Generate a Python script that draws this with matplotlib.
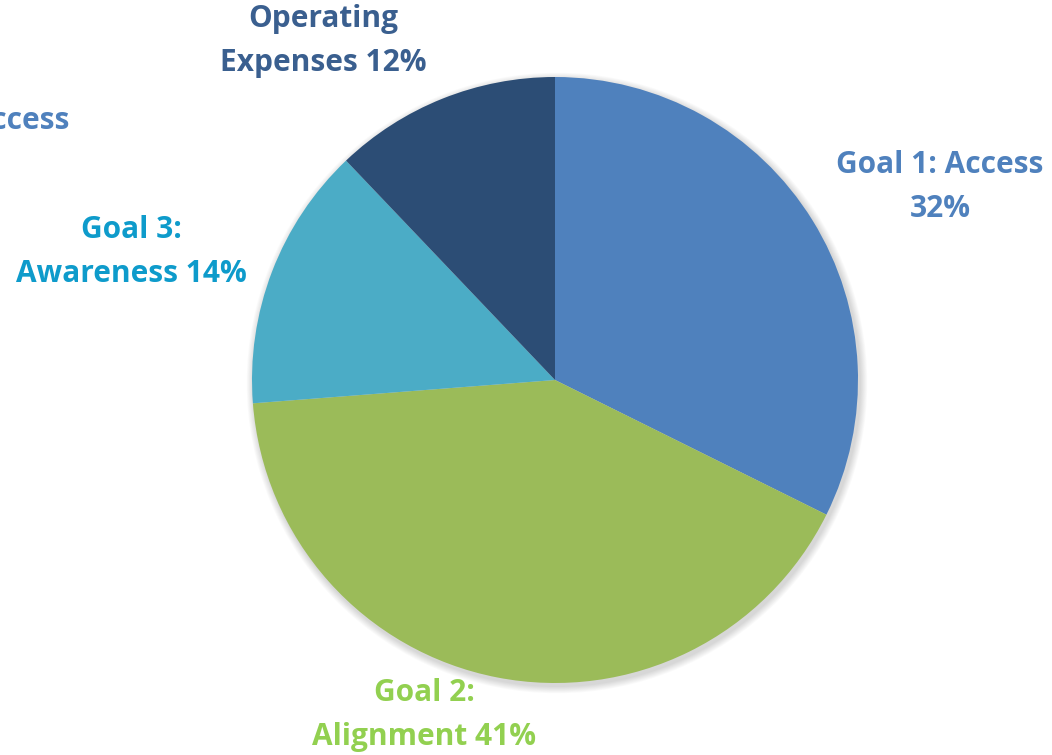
import matplotlib
matplotlib.use("Agg")
import matplotlib.pyplot as plt
from matplotlib.patches import Circle

categories = ["Goal 1: Access", "Goal 2: Alignment", "Goal 3: Awareness", "Operating Expenses"]
values = [32.3, 41.4, 14.1, 12.1]
label_lines = [["Goal 1: Access", "32%"], ["Goal 2:", "Alignment 41%"],
               ["Goal 3:", "Awareness 14%"], ["Operating", "Expenses 12%"]]
slice_colors = ["#4F81BD", "#9BBB59", "#4BACC6", "#2C4D75"]
text_colors = ["#4F81BD", "#92D050", "#0E9BCB", "#3A5F8F"]

W, H = 1052, 755
fig = plt.figure(figsize=(W / 100, H / 100), dpi=100)
ax = fig.add_axes([0, 0, 1, 1])
ax.set_axis_off()

cx, cy, r = 555, H - 380, 303

# soft shadow
for i in range(8):
    ax.add_patch(Circle((cx + 2, cy - 3), r + 1 + i * 0.9, facecolor="#000000",
                        alpha=0.018, edgecolor="none", zorder=0))

ax.pie(values, colors=slice_colors, startangle=90, counterclock=False,
       center=(cx, cy), radius=r, wedgeprops=dict(linewidth=0),
       frame=False)

ax.set_xlim(0, W)
ax.set_ylim(0, H)
ax.set_aspect("equal")
ax.set_axis_off()

font = dict(family=["Open Sans", "DejaVu Sans"], fontweight="bold", fontsize=21.5)
# label first-line centers (pixels from top-left), line step 44
label_pos = [(940, 165), (424, 693), (131, 230), (323, 19)]
for lines, (x, y), col in zip(label_lines, label_pos, text_colors):
    for k, line in enumerate(lines):
        ax.text(x, H - (y + 44 * k), line, ha="center", va="center",
                color=col, **font)

# stray clipped label at top-left (partly outside the picture, as in the reference)
ax.text(69, H - 121, "Goal 1: Access", ha="right", va="center",
        color=text_colors[0], **font)

fig.savefig("out.png", dpi=100)
